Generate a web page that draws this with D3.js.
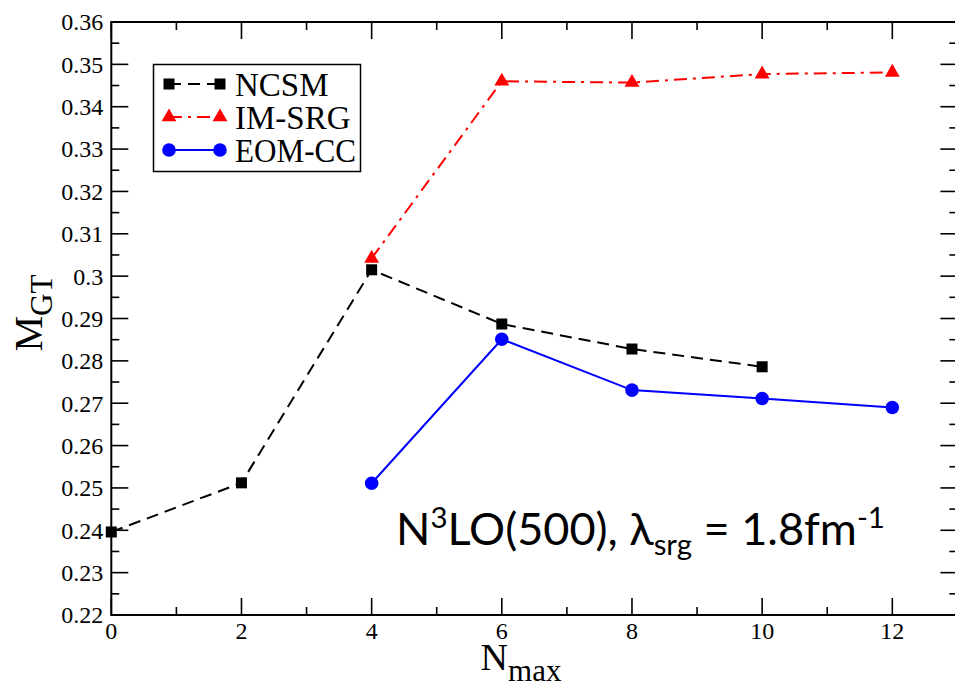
<!DOCTYPE html>
<html>
<head>
<meta charset="utf-8">
<script src="https://cdn.jsdelivr.net/npm/d3@7"></script>
<style>
  html, body { margin: 0; padding: 0; background: #fff; }
  svg { display: block; }
  text { fill: #000; }
</style>
</head>
<body>
<svg id="chart" width="955" height="688"></svg>
<script>
// Gamow-Teller matrix element vs. model space size
const nmaxNCSM = [0, 2, 4, 6, 8, 10];
const mgtNCSM  = [0.2396, 0.2512, 0.3015, 0.2887, 0.2828, 0.2786];

const nmaxIMSRG = [4, 6, 8, 10, 12];
const mgtIMSRG  = [0.3042, 0.3460, 0.3457, 0.3477, 0.3481];

const nmaxEOMCC = [4, 6, 8, 10, 12];
const mgtEOMCC  = [0.2511, 0.2851, 0.2731, 0.2711, 0.2690];

const seriesNames = ["NCSM", "IM-SRG", "EOM-CC"];
const xTicks = [0, 2, 4, 6, 8, 10, 12];
const yTicks = [0.22, 0.23, 0.24, 0.25, 0.26, 0.27, 0.28, 0.29, 0.30, 0.31, 0.32, 0.33, 0.34, 0.35, 0.36];
const yTickLabels = ["0.22", "0.23", "0.24", "0.25", "0.26", "0.27", "0.28", "0.29", "0.3", "0.31", "0.32", "0.33", "0.34", "0.35", "0.36"];

const svg = d3.select("#chart");
const plotL = 111.3, plotR = 957.4, plotT = 22, plotB = 615;

const x = d3.scaleLinear().domain([0, 13]).range([plotL, plotR]);
const y = d3.scaleLinear().domain([0.22, 0.36]).range([plotB, plotT]);

const serif = "'Liberation Serif', 'Times New Roman', serif";

// Frame ticks on all four sides, pointing inward
const xMinor = d3.range(1, 13, 2);
const yMinor = d3.range(0.225, 0.36, 0.01);
const MAJ = 17, MIN = 8;

const frame = svg.append("g");
const tickLine = (x1, y1, x2, y2) => frame.append("line")
  .attr("x1", x1).attr("y1", y1).attr("x2", x2).attr("y2", y2)
  .attr("stroke", "#000").attr("stroke-width", 1.6);

xTicks.forEach(v => { tickLine(x(v), plotB, x(v), plotB - MAJ); tickLine(x(v), plotT, x(v), plotT + MAJ); });
xMinor.forEach(v => { tickLine(x(v), plotB, x(v), plotB - MIN); tickLine(x(v), plotT, x(v), plotT + MIN); });
yTicks.forEach(v => { tickLine(plotL, y(v), plotL + MAJ, y(v)); tickLine(plotR, y(v), plotR - MAJ, y(v)); });
yMinor.forEach(v => { tickLine(plotL, y(v), plotL + MIN, y(v)); tickLine(plotR, y(v), plotR - MIN, y(v)); });

frame.append("rect")
  .attr("x", plotL).attr("y", plotT)
  .attr("width", plotR - plotL).attr("height", plotB - plotT)
  .attr("fill", "none").attr("stroke", "#000").attr("stroke-width", 2);

// Tick labels
svg.append("g").selectAll("text").data(yTicks).join("text")
  .attr("x", plotL - 8).attr("y", d => y(d))
  .attr("dy", "0.35em")
  .attr("text-anchor", "end")
  .attr("font-family", serif).attr("font-size", 24)
  .text((d, i) => yTickLabels[i]);

svg.append("g").selectAll("text").data(xTicks).join("text")
  .attr("x", d => x(d)).attr("y", 639)
  .attr("text-anchor", "middle")
  .attr("font-family", serif).attr("font-size", 24)
  .text(d => d);

// Axis titles
const yTitle = svg.append("text")
  .attr("transform", "translate(42,313) rotate(-90)")
  .attr("text-anchor", "middle")
  .attr("font-family", serif).attr("font-size", 40);
yTitle.append("tspan").text("M");
yTitle.append("tspan").attr("dy", 10).attr("font-size", 31).text("GT");

const xTitle = svg.append("text")
  .attr("x", 521).attr("y", 670)
  .attr("text-anchor", "middle")
  .attr("font-family", serif).attr("font-size", 38);
xTitle.append("tspan").text("N");
xTitle.append("tspan").attr("dy", 11).attr("font-size", 31).text("max");

// Series
const styles = {
  "NCSM":   { color: "#000000", dash: "12,7",       marker: "square" },
  "IM-SRG": { color: "#ff0000", dash: "13,6,3,6",   marker: "triangle" },
  "EOM-CC": { color: "#0000ff", dash: null,         marker: "circle" }
};

function drawMarker(g, kind, cx, cy, color) {
  if (kind === "square") {
    g.append("rect").attr("x", cx - 5.5).attr("y", cy - 5.5)
      .attr("width", 11).attr("height", 11).attr("fill", color);
  } else if (kind === "triangle") {
    g.append("path")
      .attr("d", d3.symbol().type(d3.symbolTriangle).size(95)())
      .attr("transform", `translate(${cx},${cy})`)
      .attr("fill", color);
  } else {
    g.append("circle").attr("cx", cx).attr("cy", cy).attr("r", 6.8).attr("fill", color);
  }
}

const line = d3.line().x(d => x(d[0])).y(d => y(d[1]));

function drawSeries(name, xs, ys) {
  const s = styles[name];
  const pts = xs.map((v, i) => [v, ys[i]]);
  const g = svg.append("g");
  g.append("path").datum(pts).attr("d", line)
    .attr("fill", "none").attr("stroke", s.color).attr("stroke-width", 2)
    .attr("stroke-dasharray", s.dash);
  pts.forEach(p => drawMarker(g, s.marker, x(p[0]), y(p[1]), s.color));
}

drawSeries("EOM-CC", nmaxEOMCC, mgtEOMCC);
drawSeries("IM-SRG", nmaxIMSRG, mgtIMSRG);
drawSeries("NCSM", nmaxNCSM, mgtNCSM);

// Legend
const legend = svg.append("g");
legend.append("rect")
  .attr("x", 153.5).attr("y", 64.5).attr("width", 207).attr("height", 107)
  .attr("fill", "#fff").attr("stroke", "#000").attr("stroke-width", 1.5);
seriesNames.forEach((name, i) => {
  const s = styles[name];
  const ry = 84 + i * 33;
  legend.append("line").attr("x1", 169).attr("x2", 220).attr("y1", ry).attr("y2", ry)
    .attr("stroke", s.color).attr("stroke-width", 2).attr("stroke-dasharray", s.dash);
  drawMarker(legend, s.marker, 169, ry, s.color);
  drawMarker(legend, s.marker, 220, ry, s.color);
  legend.append("text").attr("x", 235).attr("y", ry + 12)
    .attr("font-family", serif).attr("font-size", 33)
    .attr("textLength", name === "EOM-CC" ? 121 : null)
    .attr("lengthAdjust", "spacingAndGlyphs")
    .text(name);
});

// Interaction / cutoff annotation
const note = svg.append("text")
  .attr("x", 396).attr("y", 545)
  .attr("font-family", "Lato, 'Open Sans', sans-serif").attr("font-size", 46);
note.append("tspan").text("N");
note.append("tspan").attr("dy", -17).attr("font-size", 30).text("3");
note.append("tspan").attr("dy", 17).text("LO(500), λ");
note.append("tspan").attr("dy", 10).attr("font-size", 30).text("srg");
note.append("tspan").attr("dy", -10).text(" = 1.8fm");
note.append("tspan").attr("dy", -17).attr("font-size", 30).text("-1");

// fit the annotation to its span
const targetW = 489;
const w = note.node().getComputedTextLength();
if (w > 0) {
  const k = targetW / w;
  note.selectAll("tspan").each(function () {
    const t = d3.select(this);
    const fs = t.attr("font-size");
    if (fs) t.attr("font-size", +fs * k);
  });
  note.attr("font-size", 46 * k);
}
</script>
</body>
</html>
